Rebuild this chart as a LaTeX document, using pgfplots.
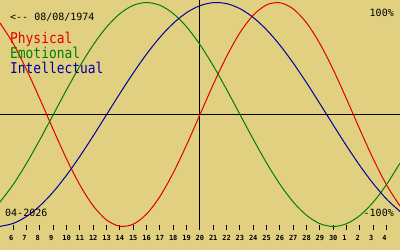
\documentclass[border=0pt]{standalone}
\usepackage{graphicx}
\usepackage{pgfplots}
\pgfplotsset{compat=1.18}
\usepackage{pgfplotstable}
\usepackage{fontspec}
\setmonofont{DejaVu Sans Mono}
\definecolor{bg}{RGB}{224,208,128}
\definecolor{cphys}{RGB}{224,0,0}
\definecolor{cemo}{RGB}{0,128,0}
\definecolor{cint}{RGB}{0,0,160}
\pgfplotstableread{
d p e i
5 0.8170 -0.7818 -0.9989
6 0.6311 -0.6235 -0.9718
7 0.3984 -0.4339 -0.9096
8 0.1362 -0.2225 -0.8146
9 -0.1362 0 -0.6901
10 -0.3984 0.2225 -0.5406
11 -0.6311 0.4339 -0.3717
12 -0.8170 0.6235 -0.1893
13 -0.9423 0.7818 0
14 -0.9977 0.9010 0.1893
15 -0.9791 0.9749 0.3717
16 -0.8879 1 0.5406
17 -0.7308 0.9749 0.6901
18 -0.5196 0.9010 0.8146
19 -0.2698 0.7818 0.9096
20 0 0.6235 0.9718
21 0.2698 0.4339 0.9989
22 0.5196 0.2225 0.9898
23 0.7308 0 0.9450
24 0.8879 -0.2225 0.8660
25 0.9791 -0.4339 0.7557
26 0.9977 -0.6235 0.6182
27 0.9423 -0.7818 0.4582
28 0.8170 -0.9010 0.2817
29 0.6311 -0.9749 0.0951
30 0.3984 -1 -0.0951
31 0.1362 -0.9749 -0.2817
32 -0.1362 -0.9010 -0.4582
33 -0.3984 -0.7818 -0.6182
34 -0.6311 -0.6235 -0.7557
35 -0.8170 -0.4339 -0.8660
}\bio
\begin{document}
\begin{tikzpicture}
\fill[bg] (0,0) rectangle (400pt,-250pt);
\begin{axis}[at={(0,0)}, anchor=north west, scale only axis,
  width=400pt, height=230pt,
  xmin=5, xmax=35, ymin=-1.03125, ymax=1.0223,
  axis line style={draw=none},
  ytick=\empty,
  xtick={6,...,34},
  xticklabels={6,7,8,9,10,11,12,13,14,15,16,17,18,19,20,21,22,23,24,25,26,27,28,29,30,1,2,3,4},
  xtick pos=bottom, xtick align=inside, major tick length=5pt,
  tick style={black, line width=1pt},
  xticklabel style={font=\ttfamily\bfseries\fontsize{7}{8}\selectfont, anchor=north west, inner sep=0pt, xshift=-4.5pt, yshift=-5.5pt},
  clip=true]
\draw[black, line width=1pt] (axis cs:5,0) -- (axis cs:35,0);
\draw[black, line width=1pt] (axis cs:20,-1.03125) -- (axis cs:20,1.0223);
\addplot[cphys, line width=1pt, smooth] table[x=d, y=p] {\bio};
\addplot[cemo, line width=1pt, smooth] table[x=d, y=e] {\bio};
\addplot[cint, line width=1pt, smooth] table[x=d, y=i] {\bio};
\end{axis}
\node[anchor=base west, inner sep=0pt, font=\ttfamily\fontsize{10}{12}\selectfont] at (10pt,-20.7pt) {<-{}- 08/08/1974};
\node[anchor=base west, inner sep=0pt, text=cphys, font=\ttfamily\fontsize{12.9}{14}\selectfont] at (10pt,-43.3pt) {\scalebox{1}[1.15]{Physical}};
\node[anchor=base west, inner sep=0pt, text=cemo, font=\ttfamily\fontsize{12.9}{14}\selectfont] at (10pt,-58.3pt) {\scalebox{1}[1.15]{Emotional}};
\node[anchor=base west, inner sep=0pt, text=cint, font=\ttfamily\fontsize{12.9}{14}\selectfont] at (10pt,-73.3pt) {\scalebox{1}[1.15]{Intellectual}};
\node[anchor=base east, inner sep=0pt, font=\ttfamily\fontsize{10}{12}\selectfont] at (394pt,-16pt) {100\%};
\node[anchor=base west, inner sep=0pt, font=\ttfamily\fontsize{10}{12}\selectfont] at (5pt,-216pt) {04-2026};
\node[anchor=base east, inner sep=0pt, font=\ttfamily\fontsize{10}{12}\selectfont] at (394pt,-216pt) {-100\%};
\end{tikzpicture}
\end{document}
